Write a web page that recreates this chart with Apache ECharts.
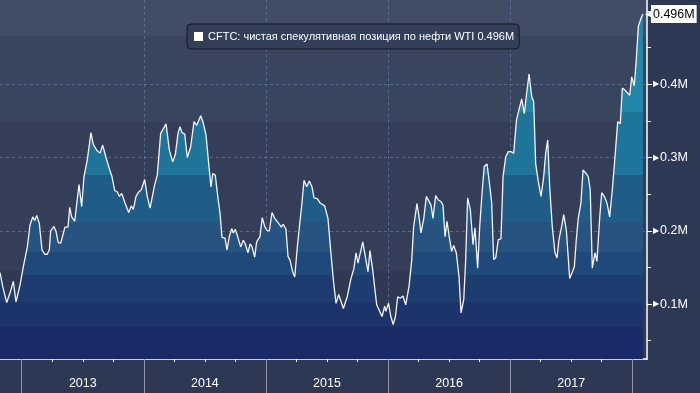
<!DOCTYPE html>
<html><head><meta charset="utf-8">
<script src="https://cdn.jsdelivr.net/npm/echarts@6/dist/echarts.min.js"></script>
<style>html,body{margin:0;padding:0;background:#2d3954;}#c{width:700px;height:393px;}</style>
</head><body><div id="c"></div>
<script>
const seriesName = 'CFTC: чистая спекулятивная позиция по нефти WTI';
// decimal-year dates
const dates = [2012.822,2012.844,2012.855,2012.877,2012.904,2012.931,2012.953,2012.986,2013.013,2013.046,2013.068,2013.090,2013.106,2013.123,2013.144,2013.166,2013.188,2013.209,2013.226,2013.237,2013.264,2013.281,2013.299,2013.319,2013.354,2013.379,2013.393,2013.409,2013.434,2013.469,2013.491,2013.510,2013.537,2013.567,2013.586,2013.614,2013.641,2013.663,2013.690,2013.723,2013.739,2013.761,2013.783,2013.799,2013.819,2013.846,2013.876,2013.897,2013.914,2013.936,2013.958,2013.979,2014.007,2014.028,2014.051,2014.067,2014.089,2014.110,2014.138,2014.182,2014.209,2014.236,2014.258,2014.280,2014.296,2014.313,2014.335,2014.356,2014.384,2014.411,2014.433,2014.449,2014.466,2014.487,2014.509,2014.531,2014.550,2014.564,2014.585,2014.607,2014.624,2014.640,2014.665,2014.681,2014.700,2014.720,2014.733,2014.749,2014.765,2014.793,2014.815,2014.831,2014.853,2014.870,2014.886,2014.908,2014.924,2014.951,2014.970,2014.990,2015.011,2015.028,2015.050,2015.072,2015.088,2015.109,2015.126,2015.142,2015.164,2015.181,2015.197,2015.219,2015.236,2015.257,2015.279,2015.295,2015.312,2015.334,2015.355,2015.377,2015.394,2015.421,2015.443,2015.459,2015.481,2015.508,2015.530,2015.552,2015.574,2015.596,2015.634,2015.666,2015.694,2015.721,2015.738,2015.754,2015.793,2015.814,2015.836,2015.852,2015.874,2015.907,2015.951,2015.973,2015.983,2016.004,2016.023,2016.042,2016.061,2016.079,2016.100,2016.122,2016.145,2016.172,2016.194,2016.210,2016.237,2016.254,2016.270,2016.292,2016.314,2016.330,2016.352,2016.368,2016.390,2016.412,2016.434,2016.450,2016.467,2016.483,2016.505,2016.521,2016.538,2016.559,2016.581,2016.598,2016.620,2016.636,2016.652,2016.674,2016.696,2016.712,2016.734,2016.751,2016.772,2016.788,2016.811,2016.827,2016.849,2016.865,2016.882,2016.903,2016.925,2016.942,2016.964,2016.985,2017.007,2017.029,2017.052,2017.078,2017.095,2017.116,2017.132,2017.155,2017.177,2017.193,2017.209,2017.231,2017.253,2017.275,2017.291,2017.308,2017.324,2017.345,2017.367,2017.384,2017.400,2017.422,2017.439,2017.460,2017.488,2017.504,2017.526,2017.542,2017.558,2017.580,2017.597,2017.619,2017.640,2017.656,2017.673,2017.695,2017.711,2017.734,2017.750,2017.771,2017.793,2017.815,2017.837,2017.859,2017.881,2017.902,2017.919,2017.941,2017.957,2017.979,2017.996,2018.017,2018.033,2018.050,2018.072,2018.088];
// net speculative position, millions of contracts
const values = [0.143,0.124,0.123,0.102,0.115,0.131,0.103,0.126,0.151,0.178,0.208,0.219,0.214,0.221,0.210,0.174,0.168,0.168,0.174,0.200,0.206,0.199,0.184,0.183,0.205,0.205,0.232,0.219,0.213,0.263,0.233,0.274,0.297,0.334,0.318,0.310,0.306,0.317,0.300,0.282,0.274,0.255,0.253,0.247,0.251,0.238,0.225,0.234,0.229,0.247,0.253,0.256,0.270,0.247,0.231,0.233,0.263,0.276,0.333,0.346,0.310,0.294,0.304,0.333,0.342,0.334,0.332,0.300,0.315,0.349,0.344,0.344,0.357,0.347,0.331,0.292,0.260,0.278,0.276,0.245,0.224,0.191,0.190,0.174,0.192,0.203,0.197,0.202,0.194,0.178,0.187,0.182,0.170,0.182,0.178,0.164,0.185,0.192,0.218,0.206,0.200,0.200,0.225,0.217,0.215,0.209,0.205,0.209,0.202,0.165,0.160,0.144,0.137,0.178,0.213,0.238,0.269,0.260,0.268,0.260,0.245,0.244,0.238,0.238,0.234,0.217,0.174,0.133,0.101,0.113,0.094,0.110,0.133,0.149,0.170,0.156,0.185,0.165,0.144,0.173,0.147,0.099,0.083,0.097,0.090,0.101,0.083,0.072,0.083,0.110,0.108,0.111,0.099,0.124,0.160,0.206,0.237,0.219,0.197,0.216,0.247,0.249,0.235,0.217,0.248,0.242,0.240,0.235,0.192,0.213,0.188,0.172,0.180,0.170,0.138,0.088,0.106,0.160,0.245,0.229,0.181,0.204,0.149,0.206,0.256,0.288,0.291,0.270,0.238,0.161,0.163,0.188,0.189,0.274,0.301,0.308,0.308,0.306,0.351,0.369,0.380,0.360,0.383,0.414,0.383,0.376,0.292,0.267,0.247,0.274,0.306,0.324,0.260,0.206,0.170,0.163,0.188,0.206,0.222,0.201,0.135,0.135,0.151,0.188,0.217,0.238,0.283,0.279,0.274,0.256,0.149,0.170,0.158,0.219,0.252,0.247,0.238,0.219,0.256,0.301,0.349,0.346,0.395,0.392,0.390,0.385,0.410,0.398,0.433,0.479,0.490,0.496];
const yearBoundaries = [2013,2014,2015,2016,2017,2018];
const yearLabelPositions = [2013.5,2014.5,2015.5,2016.5,2017.5];
const quarterTicks = [2013.25,2013.5,2013.75,2014.25,2014.5,2014.75,2015.25,2015.5,2015.75,2016.25,2016.5,2016.75,2017.25,2017.5,2017.75];
const yMajorTicks = [0.1,0.2,0.3,0.4,0.5];
const yLabelTicks = [0.1,0.2,0.3,0.4];
const yMinorTicks = [0.05,0.15,0.25,0.35,0.45];
const xMin = 2012.822, xMax = 2018.121, yMin = 0.025, yMax = 0.515;

const FONT = "'Liberation Sans',Arial,sans-serif";
const data = dates.map((d, i) => [d, values[i]]);
const last = values[values.length - 1];
const lastText = last.toFixed(3) + 'M';
const fullName = seriesName + ' ' + lastText;

function bands(edges, colors, total) {
  const stops = [];
  let prev = 0;
  for (let i = 0; i < colors.length; i++) {
    const end = i < edges.length ? edges[i] / total : 1;
    stops.push({offset: prev, color: colors[i]});
    stops.push({offset: end, color: colors[i]});
    prev = end;
  }
  return stops;
}
const PLOT_H = 359;
const areaStops = bands([112,175,222,252,275,302,327],
  ['#2186a8','#1f749a','#1f5d88','#26537f','#1f497a','#1d3d71','#1d336b','#1b2966'], PLOT_H);
const bgStops = bands([36,122,271], ['#414c67','#39445e','#343e58','#2f3953'], PLOT_H);

const chart = echarts.init(document.getElementById('c'), null, {renderer: 'canvas'});
const option = {
  backgroundColor: '#2d3954',
  animation: false,
  grid: {left: 0, right: 53, top: 0, bottom: 34, show: true, borderWidth: 0,
    backgroundColor: {type: 'linear', x: 0, y: 0, x2: 0, y2: 1, colorStops: bgStops}},
  legend: {
    show: true, left: 187, top: 24, orient: 'horizontal',
    backgroundColor: '#333f59', borderColor: '#111622', borderWidth: 1, borderRadius: 4,
    padding: [7, 5, 7, 7], icon: 'rect', itemWidth: 9, itemHeight: 9, itemGap: 4,
    textStyle: {color: '#ffffff', fontSize: 11, fontFamily: FONT, lineHeight: 11},
    data: [{name: fullName, itemStyle: {color: '#ffffff'}}]
  },
  xAxis: [{
    type: 'value', min: xMin, max: xMax,
    axisLine: {show: true, onZero: false, lineStyle: {color: '#ffffff', width: 1.5}},
    axisTick: {show: true, customValues: yearBoundaries, length: 34, lineStyle: {color: '#8f98aa', width: 1}},
    axisLabel: {show: true, customValues: yearLabelPositions, formatter: v => String(Math.floor(v)),
      color: '#ffffff', fontSize: 12.5, fontFamily: FONT, margin: 18},
    splitLine: {show: true, showMinLine: false, showMaxLine: false, lineStyle: {color: 'rgba(110,145,180,0.55)', type: [3, 3], width: 1}}
  }, {
    type: 'value', min: xMin, max: xMax, position: 'bottom',
    axisLine: {show: false},
    axisTick: {show: true, customValues: quarterTicks, length: 3, lineStyle: {color: '#ffffff', width: 1}},
    axisLabel: {show: false}, splitLine: {show: false}
  }],
  yAxis: [{
    type: 'value', position: 'right', min: yMin, max: yMax,
    axisLine: {show: true, lineStyle: {color: '#ffffff', width: 1.5}},
    axisTick: {show: true, customValues: yMajorTicks, length: 5, lineStyle: {color: '#ffffff', width: 1}},
    axisLabel: {show: true, customValues: yLabelTicks, margin: 6,
      formatter: v => '{t|▶}' + (Math.round(v * 10) / 10) + 'M',
      color: '#ffffff', fontSize: 12.5, fontFamily: FONT,
      rich: {t: {color: '#ffffff', fontSize: 8, padding: [0, 1, 0, 0]}}},
    splitLine: {show: true, showMinLine: false, showMaxLine: false, lineStyle: {color: 'rgba(110,145,180,0.55)', type: [3, 3], width: 1}}
  }, {
    type: 'value', position: 'right', min: yMin, max: yMax,
    axisLine: {show: false},
    axisTick: {show: true, customValues: yMinorTicks, length: 4, lineStyle: {color: '#ffffff', width: 1}},
    axisLabel: {show: false}, splitLine: {show: false}
  }],
  series: [{
    name: fullName, type: 'line', data: data, xAxisIndex: 0, yAxisIndex: 0,
    showSymbol: false, symbol: 'none', smooth: false, clip: false,
    color: '#ffffff',
    lineStyle: {color: '#f2f4f8', width: 1.3},
    areaStyle: {origin: 'start', opacity: 1,
      color: {type: 'linear', global: true, x: 0, y: 0, x2: 0, y2: PLOT_H, colorStops: areaStops}},
    endLabel: {show: true, distance: 2,
      formatter: () => '{a|◀}{b|' + lastText + '}',
      rich: {
        a: {color: '#ffffff', fontSize: 11, padding: [0, -2, 0, 0]},
        b: {backgroundColor: '#ffffff', color: '#000000', fontSize: 12.5, fontFamily: FONT,
            padding: [3, 2, 2, 2]}
      }}
  }]
};
if (dates.length !== values.length) {
  option.title = {text: 'LEN MISMATCH ' + dates.length + ' vs ' + values.length, textStyle: {color: 'red'}};
}
chart.setOption(option);
</script></body></html>
